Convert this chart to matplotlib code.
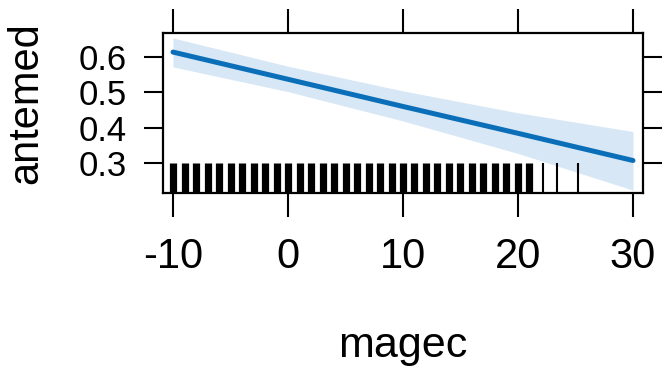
import matplotlib
matplotlib.use("Agg")
import matplotlib.pyplot as plt
import matplotlib.transforms as mtransforms

# effect of magec on antemed
magec = [-10, 0, 10, 20, 30]
fit = [0.614, 0.537, 0.460, 0.384, 0.307]
upper = [0.654, 0.574, 0.504, 0.442, 0.389]
lower = [0.572, 0.502, 0.419, 0.327, 0.223]

# rug of observed magec values
rug_dense = list(range(-10, 22))
rug_sparse = [22.2, 23.4, 25.2]

x_ticks = [-10, 0, 10, 20, 30]
y_ticks = [0.3, 0.4, 0.5, 0.6]

W, H = 664, 375


def main():
    plt.rcParams['font.family'] = ['Liberation Sans', 'DejaVu Sans']
    plt.rcParams['axes.unicode_minus'] = False
    fig = plt.figure(figsize=(W / 100, H / 100), dpi=100)
    ax = fig.add_axes([163 / W, 1 - 193 / H, 480 / W, 160 / H])

    ax.fill_between(magec, lower, upper, color='#d7e7f5', lw=0)
    ax.plot(magec, fit, color='#0a6fb8', lw=3.6, solid_capstyle='round')

    trans = mtransforms.blended_transform_factory(ax.transData, ax.transAxes)
    ax.vlines(rug_dense, 0, 0.19, colors='black', lw=5.2, transform=trans)
    ax.vlines(rug_sparse, 0, 0.19, colors='black', lw=1.5, transform=trans)

    ax.set_xlim(-10.87, 30.87)
    ax.set_ylim(0.215, 0.668)
    ax.set_xticks(x_ticks)
    ax.set_xticklabels([str(v) for v in x_ticks])
    ax.set_yticks(y_ticks)
    ax.set_yticklabels([f"{v:.1f}" for v in y_ticks])

    for sp in ax.spines.values():
        sp.set_linewidth(1.6)
    ax.tick_params(axis='x', top=True, direction='out', length=17, width=1.5, pad=15,
                   labelsize=30)
    ax.tick_params(axis='y', right=True, direction='out', length=14, width=1.5, pad=12,
                   labelsize=25)

    fig.text(403 / W, 1 - 357 / H, "magec", ha='center', va='baseline', fontsize=31)
    fig.text(26 / W, 1 - 103 / H, "antemed", ha='center', va='center', rotation=90,
             fontsize=30)

    fig.savefig("out.png", dpi=100)


if __name__ == "__main__":
    main()
